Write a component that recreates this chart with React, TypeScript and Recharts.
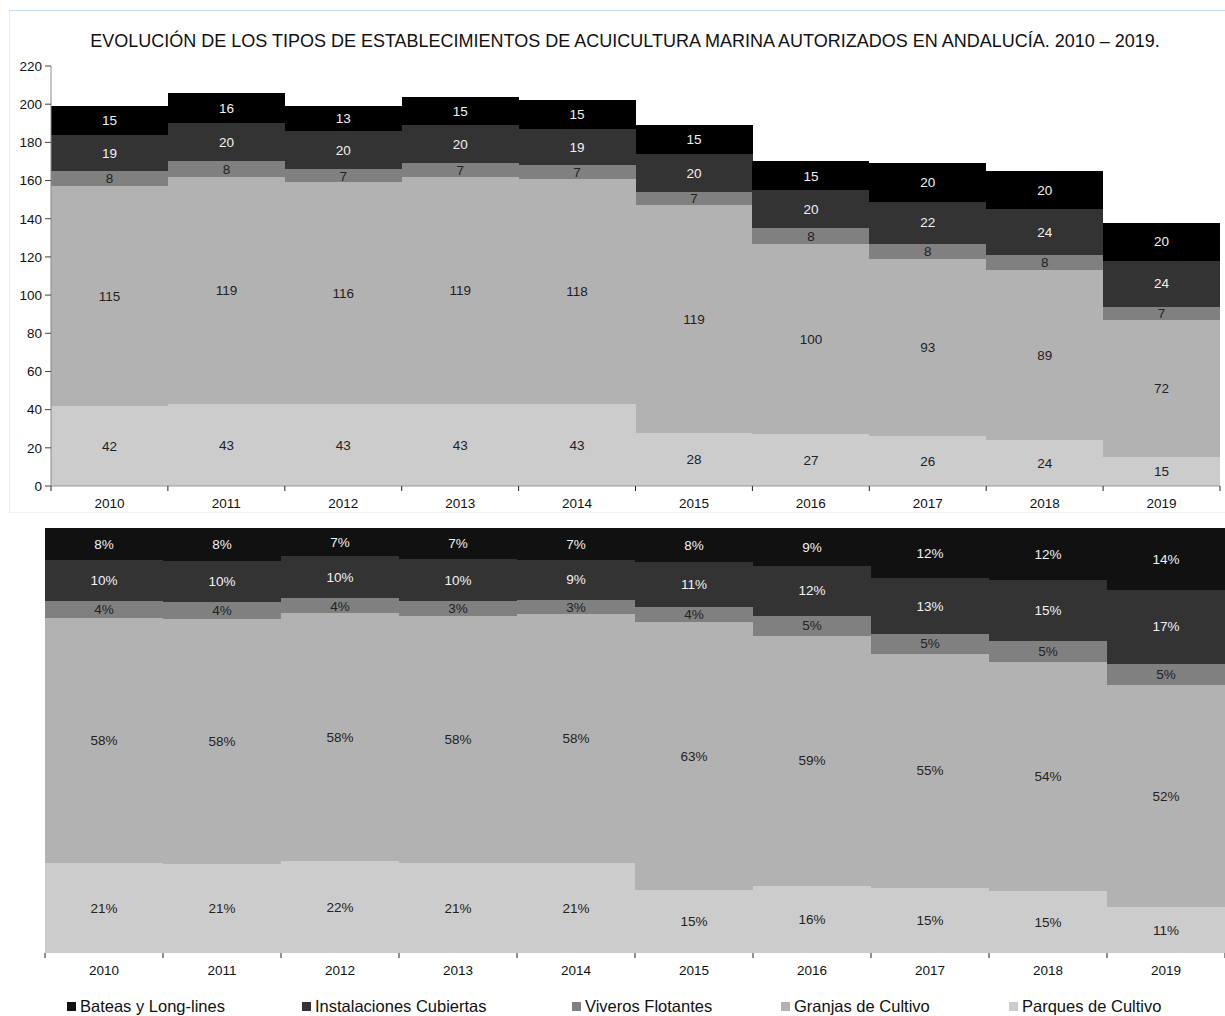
import { BarChart, Bar, XAxis, YAxis, LabelList } from "recharts";

const years = ["2010", "2011", "2012", "2013", "2014", "2015", "2016", "2017", "2018", "2019"];
const bateas = [15, 16, 13, 15, 15, 15, 15, 20, 20, 20];
const instalaciones = [19, 20, 20, 20, 19, 20, 20, 22, 24, 24];
const viveros = [8, 8, 7, 7, 7, 7, 8, 8, 8, 7];
const granjas = [115, 119, 116, 119, 118, 119, 100, 93, 89, 72];
const parques = [42, 43, 43, 43, 43, 28, 27, 26, 24, 15];
const yTicks = [0, 20, 40, 60, 80, 100, 120, 140, 160, 180, 200, 220];

const FONT = "'Liberation Sans', Arial, sans-serif";

const series = [
  { key: "parques", name: "Parques de Cultivo", color: "#cccccc", colorPct: "#cccccc", text: "#222" },
  { key: "granjas", name: "Granjas de Cultivo", color: "#b2b2b2", colorPct: "#b2b2b2", text: "#222" },
  { key: "viveros", name: "Viveros Flotantes", color: "#808080", colorPct: "#808080", text: "#222" },
  { key: "instalaciones", name: "Instalaciones Cubiertas", color: "#333333", colorPct: "#333333", text: "#f2f2f2" },
  { key: "bateas", name: "Bateas y Long-lines", color: "#000000", colorPct: "#111111", text: "#f2f2f2" },
];

// legend order as in the original (top series first)
const legendLeft = [67, 302, 572, 781, 1009];

const rows = years.map((year, i) => {
  const vals: Record<string, number> = {
    parques: parques[i],
    granjas: granjas[i],
    viveros: viveros[i],
    instalaciones: instalaciones[i],
    bateas: bateas[i],
  };
  const total = Object.values(vals).reduce((a, b) => a + b, 0);
  const row: Record<string, any> = { year, ...vals };
  for (const k of Object.keys(vals)) {
    row["p_" + k] = Math.round((vals[k] / total) * 100) + "%";
  }
  return row;
});

function makeTick(band: number, count: number) {
  return (props: any) => {
    const { x, y, payload, index } = props;
    const left = x - band / 2;
    return (
      <g>
        <line x1={left} y1={y} x2={left} y2={y + 5} stroke="#222" strokeWidth={1} />
        {index === count - 1 && (
          <line x1={x + band / 2} y1={y} x2={x + band / 2} y2={y + 5} stroke="#222" strokeWidth={1} />
        )}
        <text x={x} y={y + 22} textAnchor="middle" fontSize={13.5} fontFamily={FONT} fill="#111">
          {payload.value}
        </text>
      </g>
    );
  };
}

export default function App() {
  const topPlotW = 1169;
  const botPlotW = 1180;
  return (
    <div style={{ position: "absolute", left: 0, top: 0, width: 1225, height: 1016, background: "#fff", fontFamily: FONT }}>
      <div
        style={{
          position: "absolute",
          left: 9,
          top: 10,
          width: 1216,
          height: 503,
          borderTop: "1px solid #c6dcef",
          borderLeft: "1px solid #e3ebf3",
          borderBottom: "1px solid #eef2f6",
          boxSizing: "border-box",
        }}
      />
      <div
        style={{
          position: "absolute",
          left: 0,
          width: 1250,
          top: 31,
          textAlign: "center",
          fontSize: 18,
          color: "#111",
          whiteSpace: "nowrap",
        }}
      >
        EVOLUCIÓN DE LOS TIPOS DE ESTABLECIMIENTOS DE ACUICULTURA MARINA AUTORIZADOS EN ANDALUCÍA. 2010 – 2019.
      </div>

      <div style={{ position: "absolute", left: 9, top: 10 }}>
        <BarChart
          width={1216}
          height={503}
          data={rows}
          barCategoryGap={0}
          margin={{ top: 56, right: 5, left: 0, bottom: 0 }}
        >
          <YAxis
            type="number"
            domain={[0, 220]}
            ticks={yTicks}
            width={42}
            tickSize={6}
            tickMargin={3}
            axisLine={{ stroke: "#888" }}
            tickLine={{ stroke: "#444" }}
            tick={{ fontSize: 13.5, fontFamily: FONT, fill: "#111" }}
            interval={0}
          />
          <XAxis
            dataKey="year"
            height={27}
            axisLine={{ stroke: "#999" }}
            tickLine={false}
            tickSize={0}
            tickMargin={0}
            interval={0}
            tick={makeTick(topPlotW / years.length, years.length)}
          />
          {series.map((s) => (
            <Bar
              key={s.key}
              dataKey={s.key}
              name={s.name}
              stackId="a"
              fill={s.color}
              shapeRendering="crispEdges"
              isAnimationActive={false}
            >
              <LabelList dataKey={s.key} position="center" fill={s.text} fontSize={13.5} fontFamily={FONT} />
            </Bar>
          ))}
        </BarChart>
      </div>

      <div style={{ position: "absolute", left: 0, top: 520 }}>
        <BarChart
          width={1225}
          height={460}
          data={rows}
          barCategoryGap={0}
          stackOffset="expand"
          margin={{ top: 8, right: 0, left: 45, bottom: 0 }}
        >
          <YAxis hide domain={[0, 1]} />
          <XAxis
            dataKey="year"
            height={27}
            axisLine={false}
            tickLine={false}
            tickSize={0}
            tickMargin={0}
            interval={0}
            tick={makeTick(botPlotW / years.length, years.length)}
          />
          {series.map((s) => (
            <Bar
              key={s.key}
              dataKey={s.key}
              name={s.name}
              stackId="p"
              fill={s.colorPct}
              shapeRendering="crispEdges"
              isAnimationActive={false}
            >
              <LabelList dataKey={"p_" + s.key} position="center" fill={s.text} fontSize={13.5} fontFamily={FONT} />
            </Bar>
          ))}
        </BarChart>
      </div>

      {[...series].reverse().map((s, i) => (
        <div
          key={s.key}
          style={{
            position: "absolute",
            left: legendLeft[i],
            top: 997,
            display: "flex",
            alignItems: "center",
            fontSize: 16.5,
            color: "#111",
            whiteSpace: "nowrap",
          }}
        >
          <span style={{ display: "inline-block", width: 9, height: 9, background: s.colorPct, marginRight: 4 }} />
          {s.name}
        </div>
      ))}
    </div>
  );
}
